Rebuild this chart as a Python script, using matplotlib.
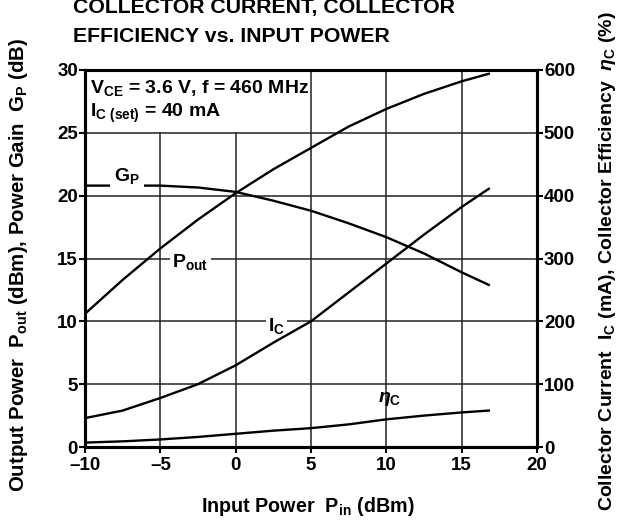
import numpy as np
import matplotlib
matplotlib.use("Agg")
import matplotlib.pyplot as plt

plt.rcParams["font.family"] = ["Liberation Sans", "DejaVu Sans"]
plt.rcParams["mathtext.fontset"] = "custom"
plt.rcParams["mathtext.rm"] = "Liberation Sans:bold"
plt.rcParams["mathtext.it"] = "Liberation Sans:italic:bold"
plt.rcParams["mathtext.bf"] = "Liberation Sans:bold"

# Input power (dBm)
pin = [-10, -7.5, -5, -2.5, 0, 2.5, 5, 7.5, 10, 12.5, 15, 16.8]
# Output power (dBm) and power gain (dB), left axis
pout = [10.6, 13.3, 15.8, 18.1, 20.2, 22.1, 23.8, 25.5, 26.9, 28.1, 29.1, 29.7]
gp = [20.8, 20.8, 20.8, 20.65, 20.3, 19.6, 18.8, 17.8, 16.7, 15.4, 13.9, 12.9]
# Collector current (mA) and collector efficiency (%), right axis
ic = [46, 58, 78, 100, 130, 166, 200, 246, 292, 338, 382, 411]
eta = [7, 9, 12, 16, 21, 26, 30, 36, 44, 50, 55, 58]

xticks = [-10, -5, 0, 5, 10, 15, 20]
xtick_labels = ["\u201310", "\u20135", "0", "5", "10", "15", "20"]
yticks_left = [0, 5, 10, 15, 20, 25, 30]
yticks_right = [0, 100, 200, 300, 400, 500, 600]

fig = plt.figure(figsize=(6.22, 5.22), dpi=100)
ax = fig.add_axes([85 / 622, 1 - 447 / 522, 452 / 622, 377 / 522])
ax2 = ax.twinx()

ax.set_xlim(-10, 20)
ax.set_ylim(0, 30)
ax2.set_ylim(0, 600)

# grid: the condition box covers the top-left cells
for x in [-5, 0]:
    ax.plot([x, x], [0, 25], color="#222222", lw=1.1, zorder=1)
for x in [5, 10, 15]:
    ax.plot([x, x], [0, 30], color="#222222", lw=1.1, zorder=1)
for y in [5, 10, 15, 20, 25]:
    ax.plot([-10, 20], [y, y], color="#222222", lw=1.1, zorder=1)

ax.plot(pin, pout, color="black", lw=1.7, zorder=3)
ax.plot(pin, gp, color="black", lw=1.7, zorder=3)
ax2.plot(pin, ic, color="black", lw=1.7, zorder=3)
ax2.plot(pin, eta, color="black", lw=1.7, zorder=3)

ax.set_xticks(xticks)
ax.set_xticklabels(xtick_labels)
ax.set_yticks(yticks_left)
ax2.set_yticks(yticks_right)
for a in (ax, ax2):
    a.tick_params(labelsize=13.5, width=1.5, length=4, pad=1)
    for lab in a.get_xticklabels() + a.get_yticklabels():
        lab.set_fontweight("bold")
    for s in a.spines.values():
        s.set_linewidth(2.2)
ax.tick_params(axis="x", pad=3)

bb = dict(facecolor="white", edgecolor="none", pad=1.5)
ax.text(-9.7, 27.5, "V$_{\\rm CE}$ = 3.6 V, f = 460 MHz\nI$_{\\rm C\\ (set)}$ = 40 mA",
        fontsize=14, fontweight="bold", va="center", ha="left", linespacing=1.25)
ax.text(-7.2, 21.55, "G$_{\\rm P}$", fontsize=14, fontweight="bold", ha="center", va="center",
        bbox=dict(facecolor="white", edgecolor="none", pad=3), zorder=4)
ax.text(-3.0, 14.75, "P$_{\\rm out}$", fontsize=14, fontweight="bold", ha="center", va="center",
        bbox=bb, zorder=4)
ax.text(2.7, 9.6, "I$_{\\rm C}$", fontsize=14, fontweight="bold", ha="center", va="center",
        bbox=bb, zorder=4)
ax.text(10.25, 3.85, "$\\eta_{\\rm C}$", fontsize=14, ha="center", va="center", zorder=4)

fig.text(308 / 622, 1 - 506 / 522, "Input Power  P$_{\\rm in}$ (dBm)", fontsize=14.2,
         fontweight="bold", ha="center", va="center")
fig.text(19 / 622, 1 - 265 / 522, "Output Power  P$_{\\rm out}$ (dBm), Power Gain  G$_{\\rm P}$ (dB)",
         fontsize=14.7, fontweight="bold", rotation=90, ha="center", va="center")
fig.text(607 / 622, 1 - 261 / 522,
         "Collector Current  I$_{\\rm C}$ (mA), Collector Efficiency  $\\eta_{\\rm C}$ (%)",
         fontsize=14.0, fontweight="bold", rotation=90, ha="center", va="center")

fig.text(73 / 622, 1 - 13 / 522, "COLLECTOR CURRENT, COLLECTOR", fontsize=15.3,
         fontweight="bold", ha="left", va="baseline")
fig.text(73 / 622, 1 - 42 / 522, "EFFICIENCY vs. INPUT POWER", fontsize=15.3,
         fontweight="bold", ha="left", va="baseline")

fig.savefig("out.png", dpi=100)
